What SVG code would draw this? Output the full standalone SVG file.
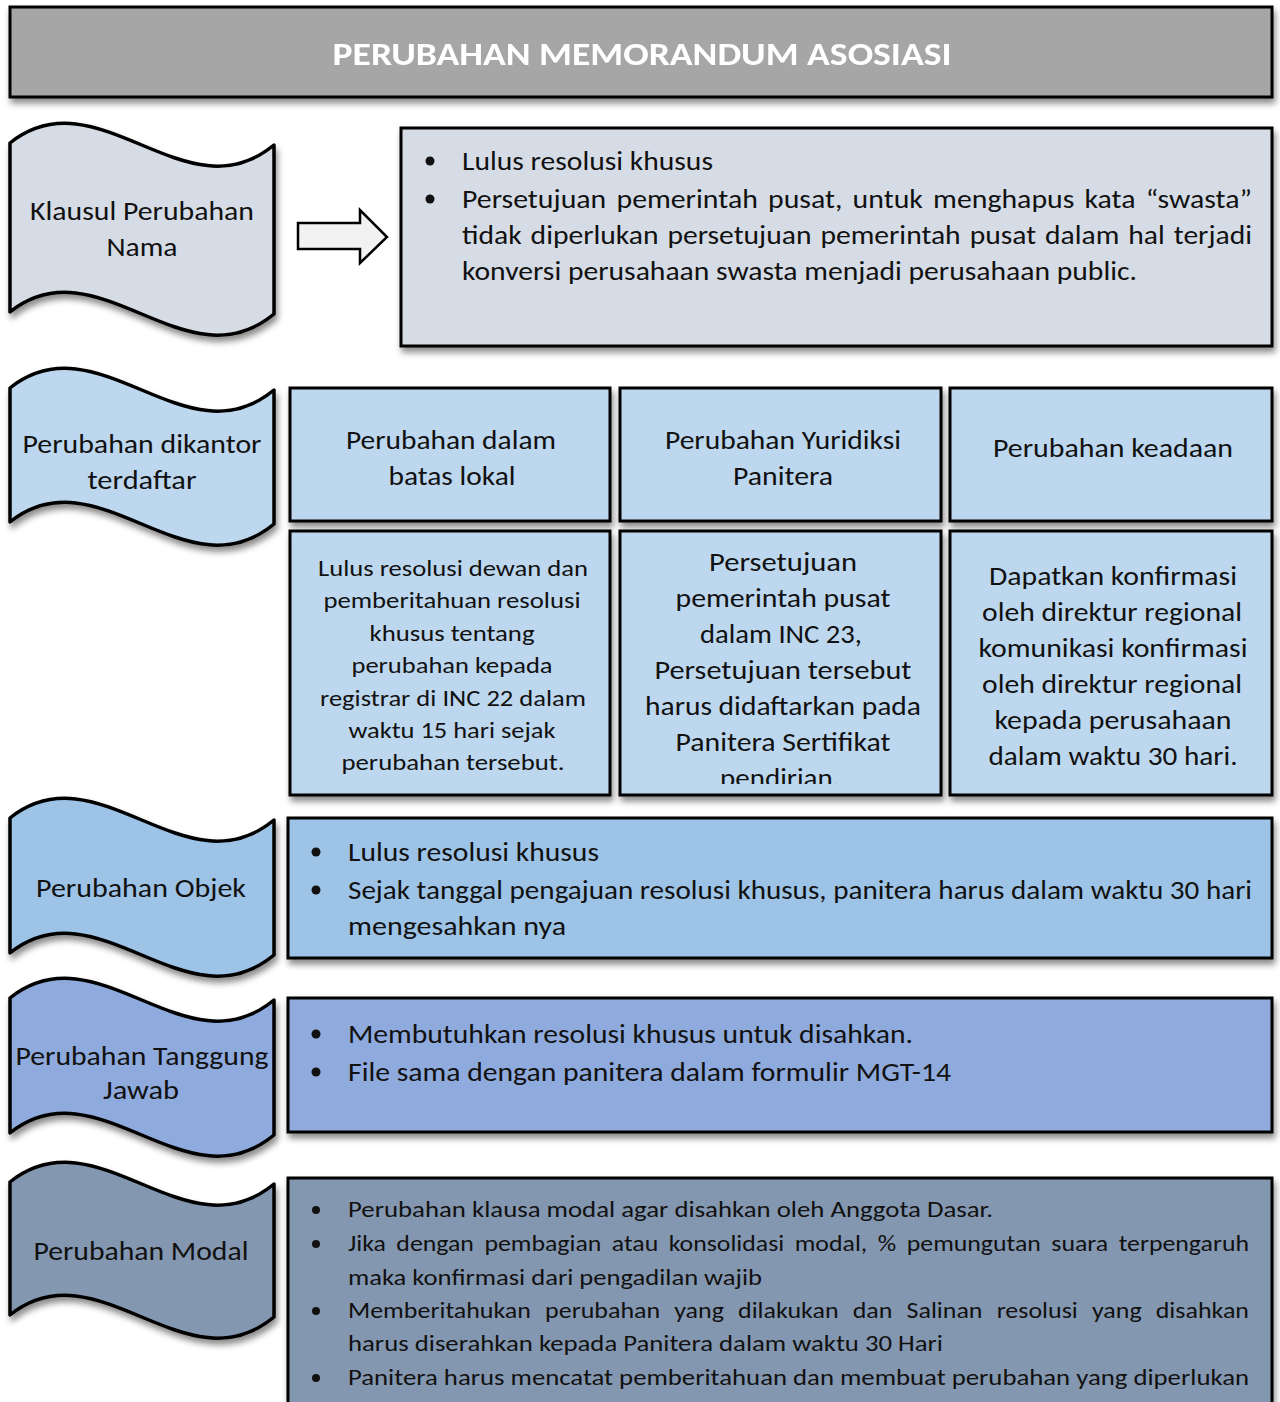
<svg xmlns="http://www.w3.org/2000/svg" width="1280" height="1402" viewBox="0 0 1280 1402">
<style>
text{font-family:Carlito,Lato,"Liberation Sans",sans-serif;fill:#111;}
.t26{font-size:26px;}
.t22{font-size:22px;}
.c{text-anchor:middle;}
.box{stroke:#000;stroke-width:3;}
.wave{stroke:#000;stroke-width:3.5;stroke-linejoin:round;}
</style>
<defs>
<filter id="sh" x="-10%" y="-10%" width="125%" height="130%">
<feDropShadow dx="2" dy="5" stdDeviation="3" flood-color="#000" flood-opacity="0.45"/>
</filter>
<clipPath id="clip2"><rect x="622" y="533" width="317" height="251"/></clipPath>
</defs>
<rect width="1280" height="1402" fill="#fff"/>

<g id="header" filter="url(#sh)">
<rect class="box" x="10" y="7" width="1262" height="90" fill="#a6a6a6"/>
<text x="642" y="65" class="c" font-size="32" font-weight="bold" style="fill:#fff" textLength="619" lengthAdjust="spacingAndGlyphs">PERUBAHAN MEMORANDUM ASOSIASI</text>
</g>

<g id="connectors">
<path d="M298,223 H360 V210 L387,237 L360,263 V249 H298 Z" fill="#f2f2f2" stroke="#000" stroke-width="2.5" stroke-linejoin="miter"/>
</g>

<g id="wave-nama">
<path class="wave" filter="url(#sh)" fill="#d6dce5" d="M10,143 c88,-70 176,75 264,2 v169 c-88,73 -176,-72 -264,-2 z"/>
<text class="t26 c" x="142" y="220" textLength="224" lengthAdjust="spacingAndGlyphs">Klausul Perubahan</text>
<text class="t26 c" x="142" y="256" textLength="71" lengthAdjust="spacingAndGlyphs">Nama</text>
</g>

<g id="box-nama">
<rect class="box" filter="url(#sh)" x="401" y="128" width="871" height="218" fill="#d6dce5"/>
<circle cx="430" cy="161" r="4.5" fill="#111"/>
<circle cx="430" cy="199" r="4.5" fill="#111"/>
<text class="t26" x="462" y="170" textLength="251" lengthAdjust="spacingAndGlyphs">Lulus resolusi khusus</text>
<text class="t26" x="462" y="208" word-spacing="3" textLength="790" lengthAdjust="spacingAndGlyphs">Persetujuan pemerintah pusat, untuk menghapus kata  “swasta”</text>
<text class="t26" x="462" y="244" word-spacing="2" textLength="790" lengthAdjust="spacingAndGlyphs">tidak diperlukan persetujuan pemerintah pusat dalam hal terjadi</text>
<text class="t26" x="462" y="280" textLength="675" lengthAdjust="spacingAndGlyphs">konversi perusahaan swasta menjadi perusahaan public.</text>
</g>

<g id="wave-kantor">
<path class="wave" filter="url(#sh)" fill="#bdd7ee" d="M10,388 c88,-70 176,75 264,2 v134 c-88,73 -176,-72 -264,-2 z"/>
<text class="t26 c" x="142" y="453" textLength="239" lengthAdjust="spacingAndGlyphs">Perubahan dikantor</text>
<text class="t26 c" x="142" y="489" textLength="109" lengthAdjust="spacingAndGlyphs">terdaftar</text>
</g>

<g id="grid-h1">
<rect class="box" filter="url(#sh)" x="290" y="388" width="320" height="133" fill="#bdd7ee"/>
<text class="t26 c" x="451" y="449" textLength="210" lengthAdjust="spacingAndGlyphs">Perubahan dalam</text>
<text class="t26 c" x="452" y="485" textLength="127" lengthAdjust="spacingAndGlyphs">batas lokal</text>
</g>
<g id="grid-h2">
<rect class="box" filter="url(#sh)" x="620" y="388" width="321" height="133" fill="#bdd7ee"/>
<text class="t26 c" x="783" y="449" textLength="236" lengthAdjust="spacingAndGlyphs">Perubahan Yuridiksi</text>
<text class="t26 c" x="783" y="485" textLength="100" lengthAdjust="spacingAndGlyphs">Panitera</text>
</g>
<g id="grid-h3">
<rect class="box" filter="url(#sh)" x="950" y="388" width="322" height="133" fill="#bdd7ee"/>
<text class="t26 c" x="1113" y="457" textLength="240" lengthAdjust="spacingAndGlyphs">Perubahan keadaan</text>
</g>

<g id="grid-b1">
<rect class="box" filter="url(#sh)" x="290" y="531" width="320" height="264" fill="#bdd7ee"/>
<text class="t22 c" x="453" y="576" textLength="270" lengthAdjust="spacingAndGlyphs">Lulus resolusi dewan dan</text>
<text class="t22 c" x="452" y="608" textLength="257" lengthAdjust="spacingAndGlyphs">pemberitahuan resolusi</text>
<text class="t22 c" x="452" y="641" textLength="165" lengthAdjust="spacingAndGlyphs">khusus tentang</text>
<text class="t22 c" x="452" y="673" textLength="201" lengthAdjust="spacingAndGlyphs">perubahan kepada</text>
<text class="t22 c" x="453" y="706" textLength="266" lengthAdjust="spacingAndGlyphs">registrar di INC 22 dalam</text>
<text class="t22 c" x="452" y="738" textLength="207" lengthAdjust="spacingAndGlyphs">waktu 15 hari sejak</text>
<text class="t22 c" x="453" y="770" textLength="223" lengthAdjust="spacingAndGlyphs">perubahan tersebut.</text>
</g>
<g id="grid-b2">
<rect class="box" filter="url(#sh)" x="620" y="531" width="321" height="264" fill="#bdd7ee"/>
<g clip-path="url(#clip2)">
<text class="t26 c" x="783" y="571" textLength="148" lengthAdjust="spacingAndGlyphs">Persetujuan</text>
<text class="t26 c" x="783" y="607" textLength="215" lengthAdjust="spacingAndGlyphs">pemerintah pusat</text>
<text class="t26 c" x="781" y="643" textLength="162" lengthAdjust="spacingAndGlyphs">dalam INC 23,</text>
<text class="t26 c" x="783" y="679" textLength="257" lengthAdjust="spacingAndGlyphs">Persetujuan tersebut</text>
<text class="t26 c" x="783" y="715" textLength="276" lengthAdjust="spacingAndGlyphs">harus didaftarkan pada</text>
<text class="t26 c" x="783" y="751" textLength="215" lengthAdjust="spacingAndGlyphs">Panitera Sertifikat</text>
<text class="t26 c" x="780" y="787" textLength="120" lengthAdjust="spacingAndGlyphs">pendirian.</text>
</g>
</g>
<g id="grid-b3">
<rect class="box" filter="url(#sh)" x="950" y="531" width="322" height="264" fill="#bdd7ee"/>
<text class="t26 c" x="1113" y="585" textLength="248" lengthAdjust="spacingAndGlyphs">Dapatkan konfirmasi</text>
<text class="t26 c" x="1112" y="621" textLength="260" lengthAdjust="spacingAndGlyphs">oleh direktur regional</text>
<text class="t26 c" x="1113" y="657" textLength="269" lengthAdjust="spacingAndGlyphs">komunikasi konfirmasi</text>
<text class="t26 c" x="1112" y="693" textLength="260" lengthAdjust="spacingAndGlyphs">oleh direktur regional</text>
<text class="t26 c" x="1113" y="729" textLength="237" lengthAdjust="spacingAndGlyphs">kepada perusahaan</text>
<text class="t26 c" x="1113" y="765" textLength="249" lengthAdjust="spacingAndGlyphs">dalam waktu 30 hari.</text>
</g>

<g id="wave-objek">
<path class="wave" filter="url(#sh)" fill="#9dc3e6" d="M10,818 c88,-70 176,75 264,2 v135 c-88,73 -176,-72 -264,-2 z"/>
<text class="t26 c" x="141" y="897" textLength="210" lengthAdjust="spacingAndGlyphs">Perubahan Objek</text>
</g>
<g id="box-objek">
<rect class="box" filter="url(#sh)" x="288" y="818" width="984" height="140" fill="#9dc3e6"/>
<circle cx="316" cy="852" r="4.5" fill="#111"/>
<circle cx="316" cy="890" r="4.5" fill="#111"/>
<text class="t26" x="348" y="861" textLength="251" lengthAdjust="spacingAndGlyphs">Lulus resolusi khusus</text>
<text class="t26" x="348" y="899" textLength="904" lengthAdjust="spacingAndGlyphs">Sejak tanggal pengajuan resolusi khusus, panitera harus dalam waktu 30 hari</text>
<text class="t26" x="348" y="935" textLength="218" lengthAdjust="spacingAndGlyphs">mengesahkan nya</text>
</g>

<g id="wave-tanggung">
<path class="wave" filter="url(#sh)" fill="#8faadc" d="M10,998 c88,-70 176,75 264,2 v135 c-88,73 -176,-72 -264,-2 z"/>
<text class="t26 c" x="142" y="1065" textLength="253" lengthAdjust="spacingAndGlyphs">Perubahan Tanggung</text>
<text class="t26 c" x="141" y="1099" textLength="76" lengthAdjust="spacingAndGlyphs">Jawab</text>
</g>
<g id="box-tanggung">
<rect class="box" filter="url(#sh)" x="288" y="998" width="984" height="134" fill="#8faadc"/>
<circle cx="316" cy="1034" r="4.5" fill="#111"/>
<circle cx="316" cy="1072" r="4.5" fill="#111"/>
<text class="t26" x="348" y="1043" textLength="565" lengthAdjust="spacingAndGlyphs">Membutuhkan resolusi khusus untuk disahkan.</text>
<text class="t26" x="348" y="1081" textLength="603" lengthAdjust="spacingAndGlyphs">File sama dengan panitera dalam formulir MGT-14</text>
</g>

<g id="wave-modal">
<path class="wave" filter="url(#sh)" fill="#8497b0" d="M10,1182 c88,-70 176,75 264,2 v133 c-88,73 -176,-72 -264,-2 z"/>
<text class="t26 c" x="141" y="1260" textLength="215" lengthAdjust="spacingAndGlyphs">Perubahan Modal</text>
</g>
<g id="box-modal">
<rect class="box" filter="url(#sh)" x="288" y="1178" width="984" height="240" fill="#8497b0"/>
<circle cx="316" cy="1210" r="4" fill="#111"/>
<circle cx="316" cy="1244" r="4" fill="#111"/>
<circle cx="316" cy="1311" r="4" fill="#111"/>
<circle cx="316" cy="1378" r="4" fill="#111"/>
<text class="t22" x="348" y="1217" textLength="645" lengthAdjust="spacingAndGlyphs">Perubahan klausa modal agar disahkan oleh Anggota Dasar.</text>
<text class="t22" x="348" y="1251" word-spacing="4" textLength="901" lengthAdjust="spacingAndGlyphs">Jika dengan pembagian  atau konsolidasi modal, % pemungutan suara terpengaruh</text>
<text class="t22" x="348" y="1285" textLength="414" lengthAdjust="spacingAndGlyphs">maka konfirmasi dari pengadilan wajib</text>
<text class="t22" x="348" y="1318" word-spacing="7" textLength="901" lengthAdjust="spacingAndGlyphs">Memberitahukan  perubahan  yang  dilakukan  dan  Salinan  resolusi yang  disahkan</text>
<text class="t22" x="348" y="1351" textLength="595" lengthAdjust="spacingAndGlyphs">harus diserahkan kepada Panitera dalam waktu  30 Hari</text>
<text class="t22" x="348" y="1385" textLength="901" lengthAdjust="spacingAndGlyphs">Panitera harus mencatat pemberitahuan dan membuat perubahan yang diperlukan</text>
</g>
</svg>
